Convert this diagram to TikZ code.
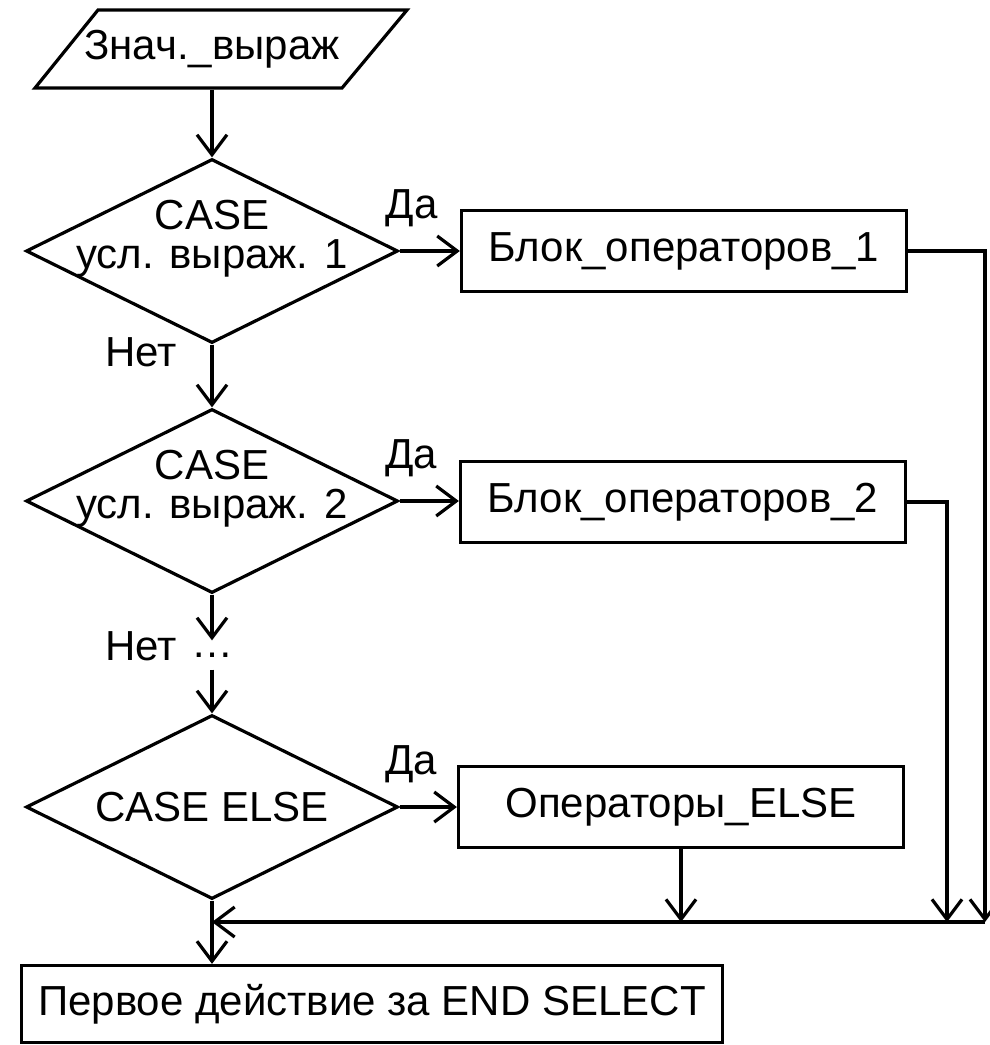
\documentclass[tikz,border=0pt]{standalone}
\usepackage{fontspec}
\setmainfont{Liberation Sans}
\usetikzlibrary{shapes.geometric, positioning, arrows.meta, calc}

\begin{document}
\begin{tikzpicture}[
    x=0.5pt, y=-0.5pt,
    font=\fontsize{21}{19.5}\selectfont,
    line width=1.6pt,
    box/.style={rectangle, draw, minimum width=222.5pt, minimum height=40.5pt, inner sep=0pt},
    decision/.style={diamond, draw, minimum width=186pt, minimum height=92pt, inner sep=0pt},
    io/.style={rectangle, minimum height=39pt, inner sep=0pt},
    cond/.style={align=center, yshift=6pt},
    arrow/.style={-{Straight Barb[length=10pt, width=15pt]}}
]
    \useasboundingbox (0,0) rectangle (990,1045);

    \node[io] (value) at (212,49) {Знач.\_выраж};
    \draw ($(value)+(-177,39)$) -- ($(value)+(-114,-39)$) -- ($(value)+(195,-39)$) -- ($(value)+(130,39)$) -- cycle;
    \node[decision, label={[cond]center:{CASE\\усл. выраж. 1}}] (case1) at (212,251) {};
    \node[box] (block1) at (684,251) {Блок\_операторов\_1};
    \node[decision, label={[cond]center:{CASE\\усл. выраж. 2}}] (case2) at (212,501) {};
    \node[box] (block2) at (683,502) {Блок\_операторов\_2};
    \node[inner sep=0pt, minimum height=13pt] (gap) at (212,655) {\dots};
    \node[decision, label={center:CASE ELSE}] (caseelse) at (212,807) {};
    \node[box] (blockelse) at (681,807) {Операторы\_ELSE};
    \node[box, minimum width=350.5pt, minimum height=38.5pt] (next) at (372,1004) {Первое действие за END SELECT};

    \node (no1) at (141,352) {Нет};
    \node (no2) at (141,646) {Нет};

    \coordinate (join) at (212,922);
    \coordinate (right1) at (985,922);
    \coordinate (right2) at (947,922);

    \draw[arrow] (value) -- (case1);
    \draw[arrow] (case1) -- node[pos=0.2, above=8pt] {Да} (block1);
    \draw[arrow] (case1) -- (case2);
    \draw[arrow] (case2.east) -- node[pos=0.2, above=8pt] {Да} (case2.east -| block2.west);
    \draw[arrow] (case2) -- (gap);
    \draw[arrow] (gap) -- (caseelse);
    \draw[arrow] (caseelse) -- node[pos=0.2, above=8pt] {Да} (blockelse);
    \draw[arrow] (caseelse.south) -- (caseelse.south |- next.north);

    \draw[arrow] (block1.east) -| (right1);
    \draw[arrow] (block2.east) -| (right2);
    \draw[arrow] (blockelse) -- (blockelse |- join);
    \draw[arrow] (right1) -- (join);
\end{tikzpicture}
\end{document}
